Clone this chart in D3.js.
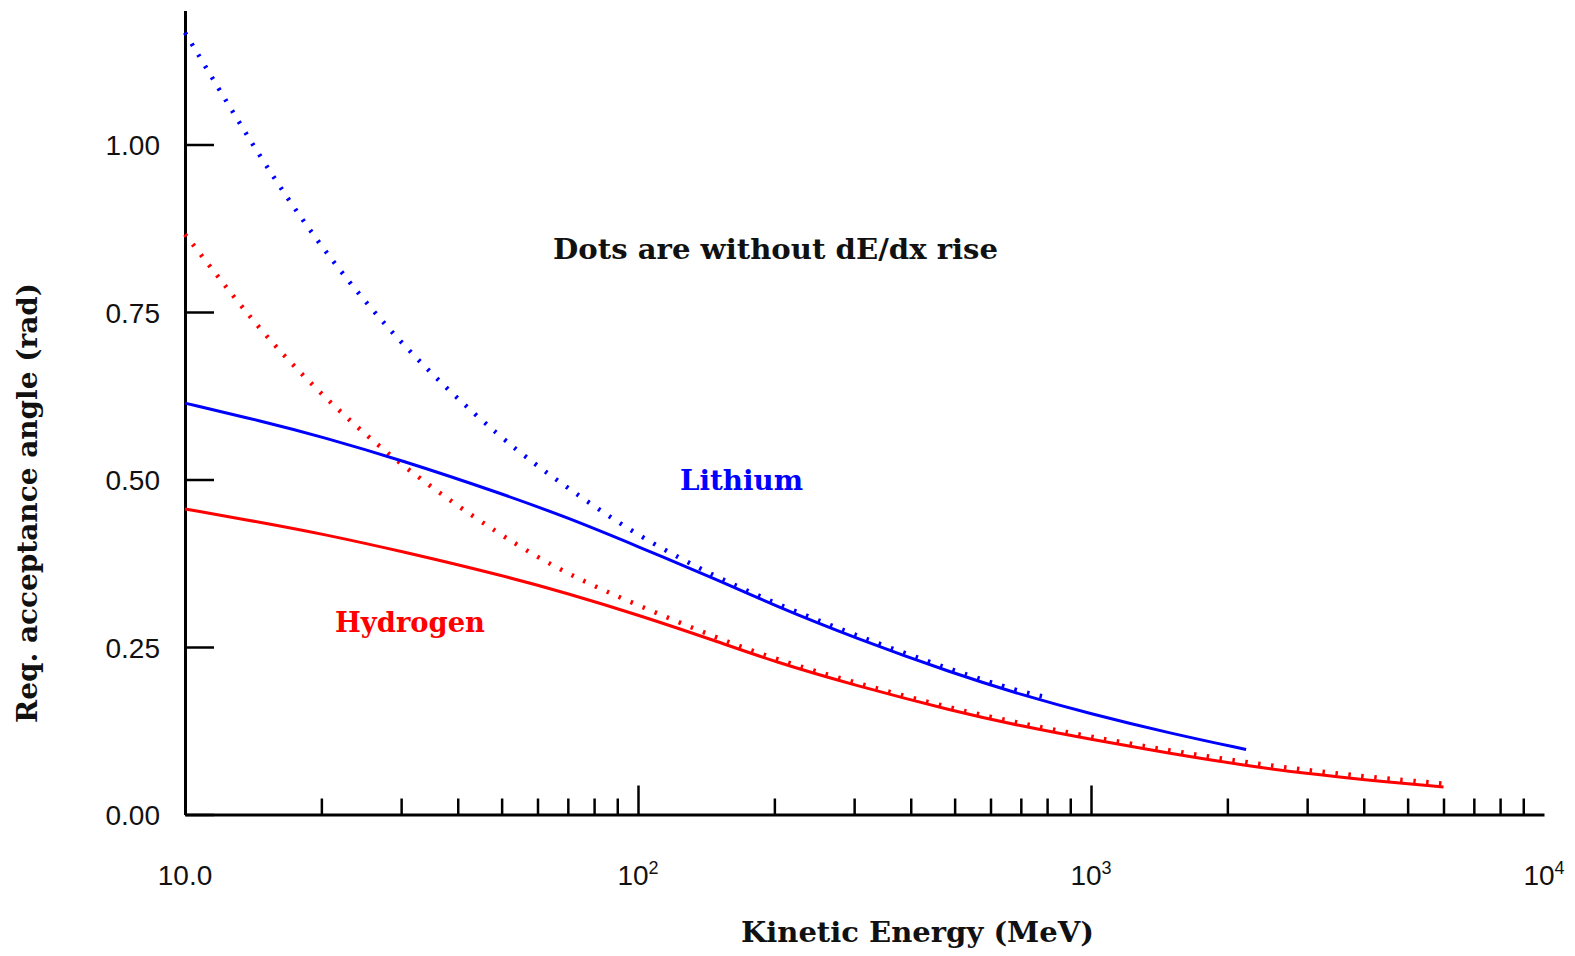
<!DOCTYPE html>
<html>
<head>
<meta charset="utf-8">
<script src="https://cdn.jsdelivr.net/npm/d3@7"></script>
<style>
  html, body { margin: 0; padding: 0; background: #fff; }
  svg { display: block; }
  .serif { font-family: "DejaVu Serif", serif; font-weight: bold; }
  .tick text { font-family: "Liberation Sans", Arial, sans-serif; font-size: 28px; fill: #111; }
</style>
</head>
<body>
<div id="chart"></div>
<script>
// Lithium, with dE/dx rise (solid) and without (dots)
const energyLiSolid = [10, 15, 20, 30, 50, 70, 100, 150, 200, 300, 500, 700, 1000, 1500, 2200];
const angleLiSolid  = [0.614, 0.586, 0.564, 0.529, 0.479, 0.443, 0.400, 0.350, 0.312, 0.264, 0.210, 0.179, 0.150, 0.121, 0.097];
const energyLiDots  = [10, 12, 15, 20, 30, 50, 70, 100, 150, 200, 300, 500, 700, 800];
const angleLiDots   = [1.167, 1.078, 0.970, 0.845, 0.699, 0.559, 0.487, 0.415, 0.353, 0.316, 0.268, 0.214, 0.183, 0.175];

// Hydrogen
const energyHSolid = [10, 15, 20, 30, 50, 70, 100, 150, 200, 300, 500, 700, 1000, 1500, 2200, 3000, 4000, 6000];
const angleHSolid  = [0.456, 0.435, 0.419, 0.393, 0.357, 0.330, 0.298, 0.258, 0.228, 0.193, 0.154, 0.132, 0.112, 0.091, 0.073, 0.061, 0.052, 0.041];
const energyHDots  = [10, 12, 15, 20, 30, 50, 70, 100, 150, 200, 300, 500, 700, 1000, 1500, 2200, 3000, 4000, 6000];
const angleHDots   = [0.866, 0.797, 0.715, 0.626, 0.519, 0.415, 0.358, 0.312, 0.263, 0.232, 0.197, 0.157, 0.136, 0.116, 0.095, 0.078, 0.066, 0.057, 0.046];

const yTicks = [0, 0.25, 0.5, 0.75, 1.0];
const xMajor = [10, 100, 1000, 10000];
const xMinor = [20, 30, 40, 50, 60, 70, 80, 90, 200, 300, 400, 500, 600, 700, 800, 900,
                2000, 3000, 4000, 5000, 6000, 7000, 8000, 9000];

const W = 1575, H = 956;
const svg = d3.select("#chart").append("svg").attr("width", W).attr("height", H);
svg.append("rect").attr("width", W).attr("height", H).attr("fill", "#fff");

const x = d3.scaleLog().domain([10, 1e4]).range([185, 1544]);
const y = d3.scaleLinear().domain([0, 1.2]).range([814.5, 10.5]);

// y axis: ticks point inwards, labels to the left
const yAxis = svg.append("g")
  .attr("transform", "translate(" + x(10) + ",0)")
  .call(d3.axisLeft(y).tickValues(yTicks).tickFormat(d3.format(".2f"))
    .tickSize(-29).tickSizeOuter(0).tickPadding(25));
yAxis.select(".domain").attr("stroke", "#000").attr("stroke-width", 3);
yAxis.selectAll(".tick line").attr("stroke", "#000").attr("stroke-width", 2.5);
yAxis.selectAll(".tick text").attr("dy", "0.36em");

// x axis: minor ticks, then major ticks
const xMinorAxis = svg.append("g")
  .attr("transform", "translate(0," + y(0) + ")")
  .call(d3.axisBottom(x).tickValues(xMinor).tickFormat("").tickSize(-16).tickSizeOuter(0));
xMinorAxis.select(".domain").attr("stroke", "#000").attr("stroke-width", 3);
xMinorAxis.selectAll(".tick line").attr("stroke", "#000").attr("stroke-width", 2.5);

const xMajorAxis = svg.append("g")
  .attr("transform", "translate(0," + y(0) + ")")
  .call(d3.axisBottom(x).tickValues([100, 1000]).tickFormat("").tickSize(-29).tickSizeOuter(0));
xMajorAxis.select(".domain").remove();
xMajorAxis.selectAll(".tick line").attr("stroke", "#000").attr("stroke-width", 2.5);

// x tick labels, powers written with superscripts
const xLab = svg.append("g")
  .attr("font-family", "'Liberation Sans', Arial, sans-serif")
  .attr("font-size", 28).attr("fill", "#111");
xMajor.forEach(v => {
  const t = xLab.append("text")
    .attr("x", x(v)).attr("y", 885).attr("text-anchor", "middle");
  if (v === 10) {
    t.text("10.0");
  } else {
    t.append("tspan").text("10");
    t.append("tspan").attr("font-size", 18).attr("dy", -11).text(Math.round(Math.log10(v)));
  }
});

const line = d3.line()
  .x(d => x(d[0]))
  .y(d => y(d[1]))
  .curve(d3.curveBasis);

const zip = (a, b) => a.map((v, i) => [v, b[i]]);

const series = [
  { data: zip(energyHDots, angleHDots), color: "#ff0000", dots: true },
  { data: zip(energyLiDots, angleLiDots), color: "#0000ff", dots: true },
  { data: zip(energyHSolid, angleHSolid), color: "#ff0000", dots: false },
  { data: zip(energyLiSolid, angleLiSolid), color: "#0000ff", dots: false }
];

series.forEach(s => {
  const p = svg.append("path")
    .datum(s.data)
    .attr("d", line)
    .attr("fill", "none")
    .attr("stroke", s.color);
  if (s.dots) {
    p.attr("stroke-width", 4.5).attr("stroke-dasharray", "2.5,10.5");
  } else {
    p.attr("stroke-width", 3);
  }
});

// labels
svg.append("text").attr("class", "serif")
  .attr("x", 553).attr("y", 259).attr("font-size", 28)
  .attr("textLength", 445).attr("lengthAdjust", "spacingAndGlyphs")
  .attr("fill", "#111").text("Dots are without dE/dx rise");

svg.append("text").attr("class", "serif")
  .attr("x", 680).attr("y", 490).attr("font-size", 28)
  .attr("textLength", 123).attr("lengthAdjust", "spacingAndGlyphs")
  .attr("fill", "#0000ff").text("Lithium");

svg.append("text").attr("class", "serif")
  .attr("x", 335).attr("y", 632).attr("font-size", 28)
  .attr("textLength", 150).attr("lengthAdjust", "spacingAndGlyphs")
  .attr("fill", "#ff0000").text("Hydrogen");

svg.append("text").attr("class", "serif")
  .attr("x", 741).attr("y", 942).attr("font-size", 28)
  .attr("textLength", 353).attr("lengthAdjust", "spacingAndGlyphs")
  .attr("fill", "#111").text("Kinetic Energy (MeV)");

svg.append("text").attr("class", "serif")
  .attr("transform", "translate(37,503) rotate(-90)")
  .attr("text-anchor", "middle").attr("font-size", 28)
  .attr("textLength", 440).attr("lengthAdjust", "spacingAndGlyphs")
  .attr("fill", "#111").text("Req. acceptance angle (rad)");
</script>
</body>
</html>
